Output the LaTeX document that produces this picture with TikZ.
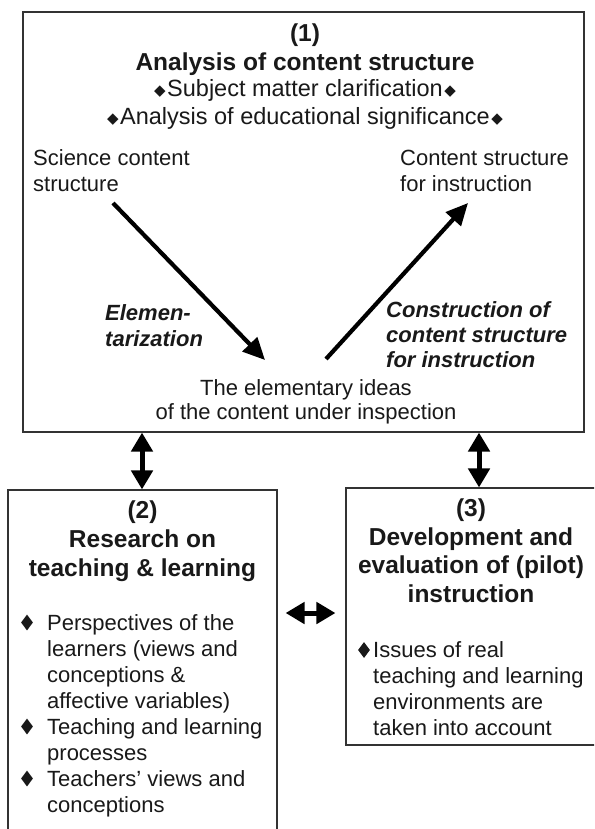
\documentclass[tikz,border=0pt]{standalone}
\usepackage{fontspec}
\setmainfont{Liberation Sans}
\newfontfamily\symfont{DejaVu Sans}
\usetikzlibrary{arrows.meta,shapes.geometric}
\newcommand\sdm{{\symfont\fontsize{15}{15}\selectfont\raisebox{1pt}{◆}}}
\begin{document}
\begin{tikzpicture}[x=1pt,y=-1pt,
  box/.style={draw=black!80, line width=1.1pt, rectangle, inner sep=0pt},
  tx/.style={inner sep=0pt, font=\fontsize{22}{26}\selectfont, text=black!90},
  hd/.style={inner sep=0pt, font=\fontsize{24.5}{28.7}\selectfont\bfseries, text=black!90, align=center},
  sb/.style={inner sep=0pt, font=\fontsize{23.5}{27}\selectfont, text=black!90},
  it/.style={inner sep=0pt, font=\fontsize{22}{25}\selectfont\bfseries\itshape, text=black!90, align=left},
  bul/.style={diamond, fill=black!90, inner sep=0pt, minimum width=12pt, minimum height=16pt},
  arr/.style={line width=4.2pt, -{Triangle[length=22pt,width=20pt]}},
  dbl/.style={line width=5pt, {Triangle[length=19pt,width=21pt]}-{Triangle[length=19pt,width=21pt]}},
]
\clip (0,0) rectangle (594,829);
\fill[white] (0,0) rectangle (594,829);

% boxes
\node[box, minimum width=561pt, minimum height=420pt] (b1) at (303.5,222) {};
\node[box, minimum width=269pt, minimum height=355pt] (b2) at (142.5,667.5) {};
\node[box, minimum width=250pt, minimum height=257pt] (b3) at (471,616.5) {};

% box 1 texts (anchor base = baseline of the last line)
\node[hd, anchor=base] (n1) at (305,42) {(1)};
\node[hd, anchor=base] (t1) at (305,71) {Analysis of content structure};
\node[sb, anchor=base] (s1) at (305,97) {\sdm\hspace{1.5pt}Subject matter clarification\hspace{1.5pt}\sdm};
\node[sb, anchor=base] (s2) at (305,125) {\sdm\hspace{1.5pt}Analysis of educational significance\hspace{1.5pt}\sdm};
\node[tx, anchor=base west, align=left] (sci) at (33,192) {Science content\\structure};
\node[tx, anchor=base west, align=left] (csi) at (400,192) {Content structure\\for instruction};
\node[it, anchor=base west, font=\fontsize{22}{26.5}\selectfont\bfseries\itshape] (el) at (105,346.5) {Elemen-\\tarization};
\node[it, anchor=base west] (co) at (386,367) {Construction of\\content structure\\for instruction};
\node[tx, anchor=base, align=center, font=\fontsize{22}{24}\selectfont] (ei) at (306,419) {The elementary ideas\\of the content under inspection};

% arrows inside box 1
\coordinate (a1s) at (113,203);
\coordinate (a1e) at (265,360);
\coordinate (a2s) at (326,359);
\coordinate (a2e) at (468,203);
\draw[arr] (a1s) -- (a1e);
\draw[arr] (a2s) -- (a2e);

% double arrows between boxes
\coordinate (v1) at (142,0);
\coordinate (v2) at (479,0);
\coordinate (h1) at (0,613);
\draw[dbl] (v1 |- b1.south) -- (v1 |- b2.north);
\draw[dbl] (v2 |- b1.south) -- (v2 |- b3.north);
\draw[dbl, shorten <=8pt, shorten >=10pt] (b2.east |- h1) -- (b3.west |- h1);

% box 2
\node[hd, anchor=base] (n2) at (142.5,576) {(2)\\Research on\\teaching \& learning};
\node[bul] (d1) at (27,622.5) {};
\node[bul] (d2) at (27,726.5) {};
\node[bul] (d3) at (27,778.5) {};
\node[tx, anchor=base west, align=left] (p1) at (47,708) {Perspectives of the\\learners (views and\\conceptions \&\\affective variables)};
\node[tx, anchor=base west, align=left] (p2) at (47,760) {Teaching and learning\\processes};
\node[tx, anchor=base west, align=left] (p3) at (47,812) {Teachers' views and\\conceptions};

% box 3
\node[hd, anchor=base] (n3) at (471,602.5) {(3)\\Development and\\evaluation of (pilot)\\instruction};
\node[bul] (d4) at (364,650) {};
\node[tx, anchor=base west, align=left, font=\fontsize{22}{25.7}\selectfont] (i3) at (373,735) {Issues of real\\teaching and learning\\environments are\\taken into account};
\end{tikzpicture}
\end{document}
